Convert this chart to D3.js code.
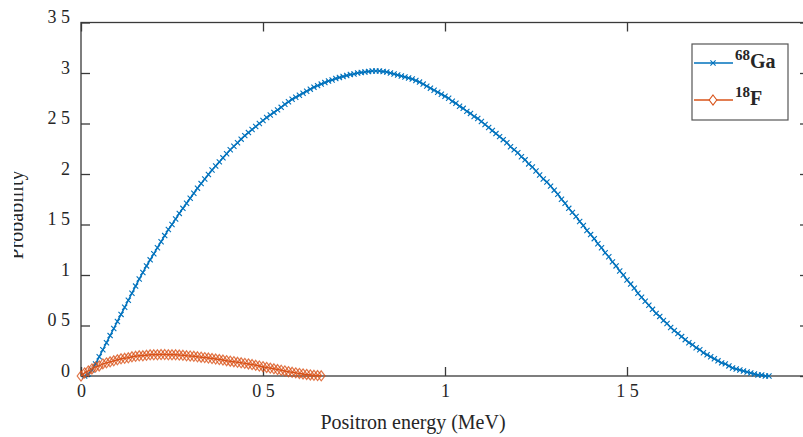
<!DOCTYPE html>
<html>
<head>
<meta charset="utf-8">
<script src="https://cdn.jsdelivr.net/npm/d3@7"></script>
<style>
  body { margin: 0; background: #fff; }
  svg { display: block; overflow: hidden; }
  text { font-family: "Liberation Serif", "Times New Roman", serif; fill: #262626; }
</style>
</head>
<body>
<svg id="chart" width="803" height="437"></svg>
<script>
// energy grids (MeV), 0.01 MeV sampling
const gaStart = 0.01, fStart = 0.0, step = 0.01;

// 68Ga positron spectrum
const gaValues = [
  0.00, 0.02, 0.06, 0.12, 0.19, 0.26, 0.33, 0.40, 0.47, 0.54,
  0.61, 0.68, 0.75, 0.82, 0.89, 0.96, 1.025, 1.09, 1.15, 1.21,
  1.27, 1.33, 1.39, 1.45, 1.50, 1.555, 1.61, 1.66, 1.71, 1.76,
  1.81, 1.86, 1.905, 1.95, 1.995, 2.04, 2.08, 2.12, 2.16, 2.20,
  2.24, 2.275, 2.31, 2.345, 2.38, 2.41, 2.44, 2.47, 2.50, 2.53,
  2.56, 2.585, 2.61, 2.635, 2.66, 2.69, 2.715, 2.74, 2.76, 2.78,
  2.80, 2.82, 2.84, 2.86, 2.875, 2.89, 2.905, 2.92, 2.93, 2.945,
  2.955, 2.965, 2.975, 2.985, 2.99, 3.00, 3.005, 3.01, 3.015, 3.02,
  3.02, 3.02, 3.015, 3.01, 3.00, 2.99, 2.98, 2.97, 2.96, 2.95,
  2.94, 2.925, 2.91, 2.89, 2.87, 2.85, 2.83, 2.81, 2.79, 2.77,
  2.75, 2.72, 2.70, 2.67, 2.65, 2.62, 2.60, 2.57, 2.55, 2.52,
  2.49, 2.46, 2.43, 2.40, 2.37, 2.34, 2.31, 2.27, 2.24, 2.21,
  2.17, 2.14, 2.10, 2.07, 2.03, 1.99, 1.95, 1.92, 1.88, 1.84,
  1.80, 1.75, 1.71, 1.66, 1.62, 1.58, 1.53, 1.49, 1.44, 1.40,
  1.36, 1.31, 1.27, 1.22, 1.18, 1.13, 1.09, 1.04, 1.00, 0.95,
  0.91, 0.87, 0.82, 0.78, 0.74, 0.70, 0.66, 0.62, 0.59, 0.55,
  0.52, 0.48, 0.45, 0.42, 0.39, 0.36, 0.33, 0.31, 0.28, 0.26,
  0.23, 0.21, 0.19, 0.17, 0.15, 0.13, 0.12, 0.10, 0.08, 0.07,
  0.06, 0.05, 0.04, 0.03, 0.02, 0.01, 0.01, 0.00, 0.00
];

// 18F positron spectrum
const fValues = [
  0.000, 0.030, 0.050, 0.070, 0.090, 0.100, 0.120, 0.130, 0.140, 0.150,
  0.160, 0.170, 0.175, 0.180, 0.190, 0.195, 0.200, 0.200, 0.205, 0.210,
  0.210, 0.210, 0.212, 0.212, 0.210, 0.210, 0.210, 0.207, 0.205, 0.200,
  0.198, 0.195, 0.190, 0.186, 0.182, 0.178, 0.173, 0.168, 0.163, 0.158,
  0.152, 0.147, 0.142, 0.136, 0.131, 0.125, 0.119, 0.113, 0.106, 0.099,
  0.092, 0.085, 0.078, 0.071, 0.064, 0.057, 0.050, 0.043, 0.037, 0.031,
  0.025, 0.020, 0.015, 0.011, 0.007, 0.004, 0.002
];

const xTicks = [0, 0.5, 1, 1.5, 2];
const xTickLabels = ["0", "0 5", "1", "1 5", "2"];
const yTicks = [0, 0.5, 1, 1.5, 2, 2.5, 3, 3.5];
const yTickLabels = ["0", "0 5", "1", "1 5", "2", "2 5", "3", "3 5"];

const GA_COLOR = "#0072BD", F_COLOR = "#D95319", AXIS_COLOR = "#3a3a3a";

const gaData = gaValues.map((v, i) => ({ e: gaStart + i * step, v }));
const fData = fValues.map((v, i) => ({ e: fStart + i * step, v }));

const svg = d3.select("#chart");
const plotLeft = 81, plotRight = 809, plotTop = 22.5, plotBottom = 376;

const x = d3.scaleLinear().domain([0, 2]).range([plotLeft, plotRight]);
const y = d3.scaleLinear().domain([0, 3.5]).range([plotBottom, plotTop]);

// box
svg.append("rect")
  .attr("x", plotLeft).attr("y", plotTop)
  .attr("width", plotRight - plotLeft).attr("height", plotBottom - plotTop)
  .attr("fill", "none").attr("stroke", AXIS_COLOR).attr("stroke-width", 1.3);

function styleAxis(g) {
  g.select(".domain").remove();
  g.selectAll(".tick line").attr("stroke", AXIS_COLOR).attr("stroke-width", 1.3);
}

// inward ticks on all four sides
const xAxis = svg.append("g").attr("transform", `translate(0,${plotBottom})`)
  .call(d3.axisBottom(x).tickValues(xTicks).tickSize(-9).tickFormat((d, i) => xTickLabels[i]))
  .call(styleAxis);
xAxis.selectAll("text").attr("y", 21).attr("dy", 0).attr("font-size", 18).attr("fill", "#262626");

svg.append("g").attr("transform", `translate(0,${plotTop})`)
  .call(d3.axisTop(x).tickValues(xTicks).tickSize(-9).tickFormat(""))
  .call(styleAxis);

const yAxis = svg.append("g").attr("transform", `translate(${plotLeft},0)`)
  .call(d3.axisLeft(y).tickValues(yTicks).tickSize(-9).tickFormat((d, i) => yTickLabels[i]))
  .call(styleAxis);
yAxis.selectAll("text").attr("x", -11).attr("dy", 0).attr("font-size", 18).attr("fill", "#262626");

svg.append("g").attr("transform", `translate(${plotRight},0)`)
  .call(d3.axisRight(y).tickValues(yTicks).tickSize(-9).tickFormat(""))
  .call(styleAxis);

const line = d3.line().x(d => x(d.e)).y(d => y(d.v));

// 68Ga: line with x markers
svg.append("path").datum(gaData)
  .attr("d", line).attr("fill", "none")
  .attr("stroke", GA_COLOR).attr("stroke-width", 1.5);

const cross = "M-2.6,-2.6L2.6,2.6M-2.6,2.6L2.6,-2.6";
svg.append("g").selectAll("path").data(gaData).join("path")
  .attr("transform", d => `translate(${x(d.e)},${y(d.v)})`)
  .attr("d", cross)
  .attr("fill", "none").attr("stroke", GA_COLOR).attr("stroke-width", 1.1);

// 18F: line with diamond markers
svg.append("path").datum(fData)
  .attr("d", line).attr("fill", "none")
  .attr("stroke", F_COLOR).attr("stroke-width", 1.5);

const diamond = "M0,-5L3.8,0L0,5L-3.8,0Z";
svg.append("g").selectAll("path").data(fData).join("path")
  .attr("transform", d => `translate(${x(d.e)},${y(d.v)})`)
  .attr("d", diamond)
  .attr("fill", "none").attr("stroke", F_COLOR).attr("stroke-width", 1.2).attr("stroke-opacity", 0.8);

// axis titles (the y title is cut at the left edge in the source image)
svg.append("defs").append("clipPath").attr("id", "ylabClip")
  .append("rect").attr("x", 14).attr("y", 0).attr("width", 40).attr("height", 437);

svg.append("g").attr("clip-path", "url(#ylabClip)")
  .append("text")
  .attr("transform", "translate(23,215) rotate(-90)")
  .attr("text-anchor", "middle").attr("font-size", 20)
  .text("Probability");

svg.append("text")
  .attr("x", 413).attr("y", 429)
  .attr("text-anchor", "middle").attr("font-size", 20)
  .text("Positron energy (MeV)");

// legend
const legend = svg.append("g");
legend.append("rect")
  .attr("x", 692).attr("y", 44).attr("width", 96).attr("height", 76)
  .attr("fill", "#fff").attr("stroke", "#555").attr("stroke-width", 1.2);

const legendRows = [
  { mass: "68", name: "Ga", color: GA_COLOR, y: 63, marker: cross },
  { mass: "18", name: "F", color: F_COLOR, y: 100, marker: diamond }
];

legendRows.forEach(r => {
  legend.append("line")
    .attr("x1", 694).attr("x2", 733).attr("y1", r.y).attr("y2", r.y)
    .attr("stroke", r.color).attr("stroke-width", 1.3);
  legend.append("path")
    .attr("transform", `translate(713,${r.y})`)
    .attr("d", r.marker)
    .attr("fill", "#fff").attr("stroke", r.color).attr("stroke-width", 1.1);
  const t = legend.append("text").attr("x", 735).attr("y", r.y + 5).attr("font-weight", "bold");
  t.append("tspan").attr("font-size", 15).attr("dy", -8).text(r.mass);
  t.append("tspan").attr("font-size", 20).attr("dy", 8).text(r.name);
});
</script>
</body>
</html>
